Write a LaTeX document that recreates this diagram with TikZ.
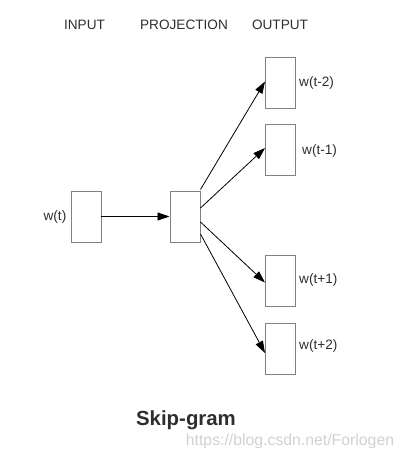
\documentclass[tikz,border=0pt]{standalone}
\usepackage{fontspec}
\setmainfont{Liberation Sans}
\usetikzlibrary{arrows.meta}
\begin{document}
\begin{tikzpicture}[x=1pt,y=-1pt,
  vec/.style={draw=black!50, line width=1pt, minimum width=30pt, minimum height=51pt, inner sep=0pt},
  lbl/.style={text=black!82, font=\fontsize{13.6}{16}\selectfont, inner sep=0pt},
  conn/.style={-{Triangle[length=12pt,width=8pt]}, line width=0.8pt}]
\useasboundingbox (0,0) rectangle (402,458);
\node[lbl] (hin) at (84.5,25) {INPUT};
\node[lbl] (hproj) at (184,25) {PROJECTION};
\node[lbl] (hout) at (280,25) {OUTPUT};
\node[vec] (in) at (86,216.5) {};
\node[vec] (proj) at (185,216.5) {};
\node[vec] (o1) at (280.5,82.5) {};
\node[vec] (o2) at (280.5,150) {};
\node[vec] (o3) at (280.5,281) {};
\node[vec] (o4) at (280.5,349) {};
\node[lbl, anchor=east] (lin) at ([xshift=-4pt]in.west) {w(t)};
\node[lbl, anchor=west] (l1) at ([xshift=3pt]o1.east) {w(t-2)};
\node[lbl, anchor=west] (l2) at ([xshift=6pt,yshift=-1pt]o2.east) {w(t-1)};
\node[lbl, anchor=west] (l3) at ([xshift=3pt,yshift=1pt]o3.east) {w(t+1)};
\node[lbl, anchor=west] (l4) at ([xshift=3pt,yshift=3pt]o4.east) {w(t+2)};
\draw[conn] ([xshift=-1pt]in.east) -- (proj.west);
\draw[conn] ([yshift=1pt]proj.north east) -- ([yshift=1pt]o1.west);
\draw[conn] ([yshift=8.5pt]proj.east) -- ([yshift=2pt]o2.west);
\draw[conn] ([yshift=-5.5pt]proj.east) -- ([yshift=-1.5pt]o3.west);
\draw[conn] ([yshift=-17.5pt]proj.east) -- ([yshift=-4pt]o4.west);
\node[lbl, font=\bfseries\fontsize{20.4}{24}\selectfont] (title) at (186,420) {Skip-gram};
\node[lbl, text=black!18, font=\fontsize{15.8}{18}\selectfont] (mark) at (290,441) {https://blog.csdn.net/Forlogen};
\end{tikzpicture}
\end{document}
